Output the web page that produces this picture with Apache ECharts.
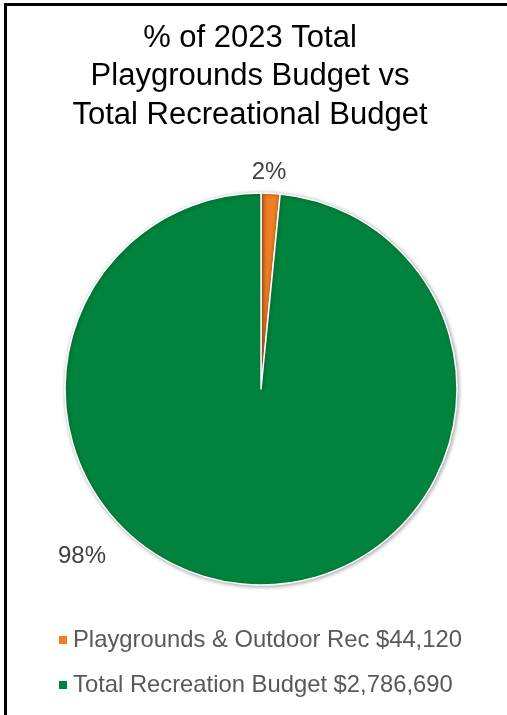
<!DOCTYPE html>
<html>
<head>
<meta charset="utf-8">
<script src="https://cdn.jsdelivr.net/npm/echarts@6/dist/echarts.min.js"></script>
<style>
  html, body { margin: 0; padding: 0; background: #fff; }
  #frame {
    position: absolute; left: 0; top: 0; width: 507px; height: 715px;
    box-sizing: border-box; border-top: 3px solid #000; border-left: 3px solid #000;
    margin-left: 4px; margin-top: 3px;
  }
  #chart { position: absolute; left: 0; top: 0; width: 507px; height: 715px; }
</style>
</head>
<body>
<div id="frame"></div>
<div id="chart"></div>
<script>
// Budget categories and amounts (USD, 2023)
const categories = ['Playgrounds & Outdoor Rec $44,120', 'Total Recreation Budget $2,786,690'];
const amounts = [44120, 2786690];
const colors = ['#F07E26', '#00843D'];
const titleLines = ['% of 2023 Total', 'Playgrounds Budget vs', 'Total Recreational Budget'];

const FONT = '"Liberation Sans", Arial, sans-serif';

// where each percentage label sits
const labelSpots = [[269, 172], [82, 556]];

const chart = echarts.init(document.getElementById('chart'), null, { renderer: 'canvas' });
chart.setOption({
  animation: false,
  title: {
    text: titleLines.join('\n'),
    left: 245,
    textAlign: 'center',
    top: 14,
    textStyle: { fontFamily: FONT, fontSize: 31, fontWeight: 'normal', color: '#000', lineHeight: 38.5 }
  },
  legend: {
    orient: 'vertical',
    left: 52,
    top: 623,
    itemWidth: 10,
    itemHeight: 10,
    itemGap: 21,
    icon: 'rect',
    textStyle: { fontFamily: FONT, fontSize: 23.8, lineHeight: 24, color: '#595959' },
    data: categories
  },
  series: [{
    type: 'pie',
    center: [261, 389],
    radius: 196,
    startAngle: 90,
    clockwise: true,
    avoidLabelOverlap: false,
    itemStyle: {
      borderColor: '#fff', borderWidth: 1.5,
      shadowBlur: 4, shadowColor: 'rgba(0,0,0,0.35)', shadowOffsetX: 1, shadowOffsetY: 1
    },
    label: {
      show: true,
      position: 'outside',
      formatter: p => Math.round(p.percent) + '%',
      fontFamily: FONT, fontSize: 24, color: '#404040'
    },
    labelLine: { show: false },
    labelLayout: p => ({ x: labelSpots[p.dataIndex][0], y: labelSpots[p.dataIndex][1], align: 'center', verticalAlign: 'middle' }),
    emphasis: { disabled: true },
    data: categories.map((c, i) => ({ name: c, value: amounts[i], itemStyle: { color: colors[i] } }))
  }]
});
</script>
</body>
</html>
